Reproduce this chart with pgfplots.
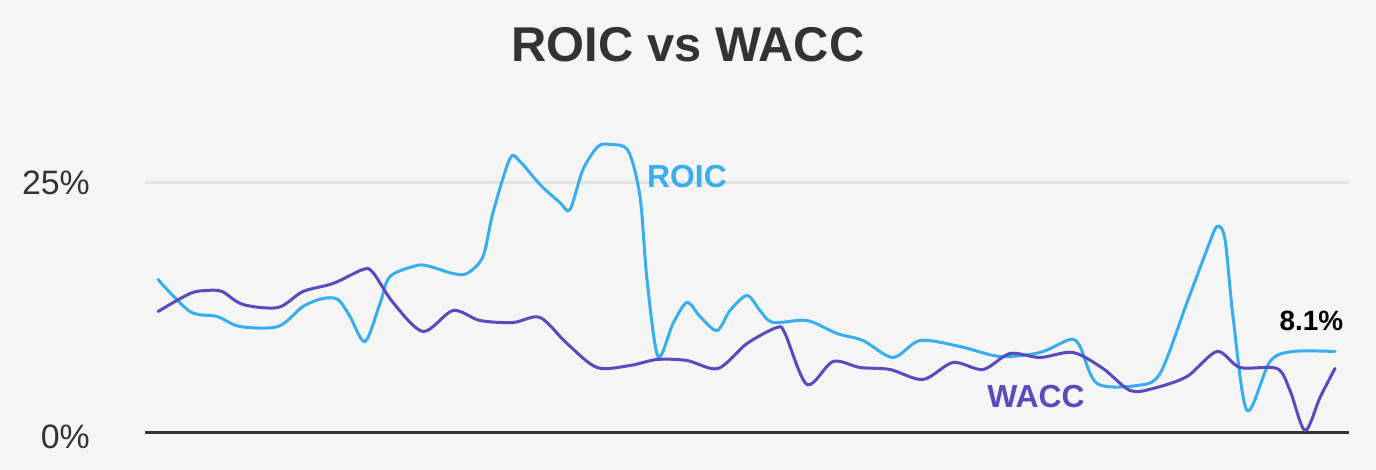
\documentclass[border=0pt]{standalone}
\usepackage{pgfplots}
\pgfplotsset{compat=1.18}
\usepackage{fontspec}
\setmainfont{Liberation Sans}
\definecolor{bg}{HTML}{F5F5F5}
\definecolor{roic}{HTML}{38ADEF}
\definecolor{wacc}{HTML}{574BBD}
\definecolor{txt}{HTML}{333333}
\definecolor{gridc}{HTML}{E4E4E4}
\begin{document}
\begin{tikzpicture}
\useasboundingbox (0,0) rectangle (1376bp,470bp);
\fill[bg] (0,0) rectangle (1376bp,470bp);
\node[txt, inner sep=0pt] at (688bp,425.5bp) {\fontsize{49}{55}\selectfont\bfseries ROIC vs WACC};
\node[txt, inner sep=0pt, anchor=east] at (90bp,287.5bp) {\fontsize{34}{40}\selectfont 25\%};
\node[txt, inner sep=0pt, anchor=east] at (90bp,33bp) {\fontsize{34}{40}\selectfont 0\%};
\begin{axis}[
  at={(145bp,37.5bp)}, anchor=south west,
  scale only axis, width=1205bp, height=300bp,
  xmin=145, xmax=1350, ymin=0, ymax=30,
  hide axis, clip=false,
]
\draw[gridc, line width=3bp] (axis cs:145,25) -- (axis cs:1349,25);
\draw[txt, line width=3.5bp] (axis cs:145,0) -- (axis cs:1349,0);
\addplot[roic, line width=3bp, smooth, tension=0.5, line cap=round] coordinates {
(158,15.3)(190,12.1)(217,11.6)(240,10.6)(278,10.6)(303,12.6)(323,13.4)(338,13.3)
(350,11.6)(365,9.1)(380,12.9)(390,15.6)(417,16.7)(430,16.6)(453,15.9)(467,15.9)
(483,17.6)(493,22.0)(510,27.4)(520,27.1)(540,24.8)(560,23.0)(570,22.3)(583,26.3)
(598,28.6)(610,28.8)(628,28.2)(640,23.6)(647,15.3)(658,7.6)(673,10.9)(687,13.0)
(700,11.6)(717,10.2)(730,12.2)(747,13.7)(760,12.2)(773,11.0)(807,11.2)(837,9.9)
(863,9.2)(893,7.5)(920,9.2)(960,8.6)(1000,7.6)(1040,8.0)(1070,9.3)(1080,8.6)
(1097,4.9)(1137,4.7)(1160,5.9)(1187,13.0)(1207,18.3)(1217,20.6)(1225,19.3)
(1233,11.6)(1247,2.2)(1270,7.1)(1293,8.1)(1335,8.1)
};
\addplot[wacc, line width=3bp, smooth, tension=0.5, line cap=round] coordinates {
(158,12.1)(190,13.9)(207,14.2)(222,14.1)(243,12.8)(278,12.5)(303,14.1)(333,14.9)
(363,16.3)(373,16.0)(393,13.0)(423,10.1)(453,12.2)(480,11.2)(513,11.0)(540,11.5)
(567,8.9)(597,6.5)(630,6.7)(657,7.3)(687,7.2)(718,6.4)(747,8.9)(777,10.5)(785,9.9)
(807,4.8)(833,7.1)(860,6.5)(890,6.3)(923,5.3)(953,7.0)(983,6.3)(1010,7.9)(1040,7.5)
(1073,8.0)(1103,6.4)(1130,4.2)(1153,4.4)(1187,5.6)(1217,8.1)(1240,6.5)(1277,6.4)
(1290,4.2)(1305,0.2)(1320,3.5)(1335,6.4)
};
\node[roic, inner sep=0pt] at (axis cs:687,25.6) {\fontsize{32}{38}\selectfont\bfseries ROIC};
\node[wacc, inner sep=0pt] at (axis cs:1036,3.6) {\fontsize{32}{38}\selectfont\bfseries WACC};
\node[black, inner sep=0pt] at (axis cs:1311.5,11.2) {\fontsize{28}{34}\selectfont\bfseries 8.1\%};
\end{axis}
\end{tikzpicture}
\end{document}
